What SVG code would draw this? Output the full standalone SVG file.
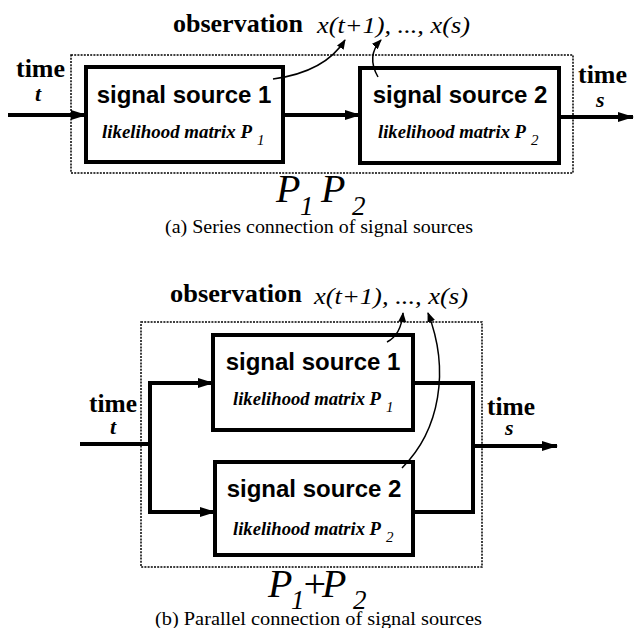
<svg xmlns="http://www.w3.org/2000/svg" width="634" height="628" viewBox="0 0 634 628">
<style>
.bg{fill:#fff}
.box{fill:none;stroke:#000;stroke-width:4}
.dot{fill:none;stroke:#000;stroke-width:1.5;stroke-dasharray:2 1.2}
.wire{fill:none;stroke:#000;stroke-width:4}
.thin{fill:none;stroke:#000;stroke-width:1.5}
.obs{font-family:"Liberation Serif",serif;font-weight:bold;font-size:25px}
.obsx{font-family:"Liberation Serif",serif;font-style:italic;font-size:24px}
.time{font-family:"Liberation Serif",serif;font-weight:bold;font-size:25px}
.tv{font-family:"Liberation Serif",serif;font-style:italic;font-weight:bold;font-size:22px}
.sig{font-family:"Liberation Sans",Arial,sans-serif;font-weight:bold;font-size:24px;text-anchor:middle}
.lik{font-family:"Liberation Serif",serif;font-style:italic;font-weight:bold;font-size:19px}
.sub{font-family:"Liberation Serif",serif;font-style:italic;font-size:15px}
.bigP{font-family:"Liberation Serif",serif;font-style:italic;font-size:40px}
.bigS{font-family:"Liberation Serif",serif;font-style:italic;font-size:27px}
.cap{font-family:"Liberation Serif",serif;font-size:19px}
</style>
<defs>
<marker id="ah" markerWidth="16" markerHeight="12" refX="15" refY="6" orient="auto" markerUnits="userSpaceOnUse"><path d="M0,1 L16,6 L0,11 z" fill="#000"/></marker>
<marker id="sh" markerWidth="10" markerHeight="8" refX="9" refY="4" orient="auto" markerUnits="userSpaceOnUse"><path d="M0,0 L10,4 L0,8 z" fill="#000"/></marker>
</defs>
<rect class="bg" x="0" y="0" width="634" height="628"/>

<!-- (a) series -->
<g id="series-frame">
<rect class="dot" x="71" y="55" width="502" height="118"/>
</g>
<g id="series-labels">
<text class="obs" x="173" y="32" textLength="130" lengthAdjust="spacingAndGlyphs">observation</text>
<text class="obsx" x="317" y="33" textLength="153" lengthAdjust="spacingAndGlyphs">x(t+1), ..., x(s)</text>
<text class="time" x="16" y="77" textLength="49" lengthAdjust="spacingAndGlyphs">time</text>
<text class="tv" x="35" y="101">t</text>
<text class="time" x="578" y="83" textLength="49" lengthAdjust="spacingAndGlyphs">time</text>
<text class="tv" x="596" y="107">s</text>
<text class="bigP" x="276" y="202">P</text>
<text class="bigS" x="300" y="215">1</text>
<text class="bigP" x="321" y="202">P</text>
<text class="bigS" x="352" y="215">2</text>
<text class="cap" x="165" y="233" textLength="308" lengthAdjust="spacingAndGlyphs">(a)  Series connection of signal sources</text>
</g>
<g id="series-source1">
<rect class="box" x="86" y="67" width="197" height="95"/>
<text class="sig" x="184" y="103">signal source 1</text>
<text class="lik" x="102" y="138" textLength="150" lengthAdjust="spacingAndGlyphs">likelihood matrix P</text>
<text class="sub" x="257" y="145">1</text>
</g>
<g id="series-source2">
<rect class="box" x="360" y="68" width="199" height="95"/>
<text class="sig" x="460" y="103">signal source 2</text>
<text class="lik" x="378" y="138" textLength="148" lengthAdjust="spacingAndGlyphs">likelihood matrix P</text>
<text class="sub" x="531" y="145">2</text>
</g>
<g id="series-connectors">
<line class="wire" x1="8" y1="115" x2="86" y2="115" marker-end="url(#ah)"/>
<line class="wire" x1="283" y1="115" x2="360" y2="115" marker-end="url(#ah)"/>
<line class="wire" x1="559" y1="117" x2="633" y2="117" marker-end="url(#ah)"/>
<path class="thin" d="M273,79 Q325,72 345,40" marker-end="url(#sh)"/>
<path class="thin" d="M378,77 Q366,56 381,40" marker-end="url(#sh)"/>
</g>

<!-- (b) parallel -->
<g id="parallel-frame">
<rect class="dot" x="141" y="322" width="341" height="245"/>
</g>
<g id="parallel-labels">
<text class="obs" x="170" y="302" textLength="132" lengthAdjust="spacingAndGlyphs">observation</text>
<text class="obsx" x="314" y="304" textLength="154" lengthAdjust="spacingAndGlyphs">x(t+1), ..., x(s)</text>
<text class="time" x="89" y="412" textLength="48" lengthAdjust="spacingAndGlyphs">time</text>
<text class="tv" x="110" y="434">t</text>
<text class="time" x="487" y="415" textLength="48" lengthAdjust="spacingAndGlyphs">time</text>
<text class="tv" x="505" y="435">s</text>
<text class="bigP" x="268" y="597">P</text>
<text class="bigS" x="291" y="609">1</text>
<text class="bigP" x="301" y="597">+</text>
<text class="bigP" x="322" y="597">P</text>
<text class="bigS" x="353" y="609">2</text>
<text class="cap" x="155" y="625" textLength="327" lengthAdjust="spacingAndGlyphs">(b)  Parallel connection of signal sources</text>
</g>
<g id="parallel-source1">
<rect class="box" x="213" y="335" width="200" height="95"/>
<text class="sig" x="313" y="370">signal source 1</text>
<text class="lik" x="233" y="405" textLength="148" lengthAdjust="spacingAndGlyphs">likelihood matrix P</text>
<text class="sub" x="386" y="412">1</text>
</g>
<g id="parallel-source2">
<rect class="box" x="215" y="462" width="198" height="93"/>
<text class="sig" x="314" y="497">signal source 2</text>
<text class="lik" x="233" y="535" textLength="148" lengthAdjust="spacingAndGlyphs">likelihood matrix P</text>
<text class="sub" x="386" y="542">2</text>
</g>
<g id="parallel-connectors">
<line class="wire" x1="80" y1="444" x2="152" y2="444"/>
<path class="wire" d="M150,444 L150,383 L213,383" marker-end="url(#ah)"/>
<path class="wire" d="M150,444 L150,512 L215,512" marker-end="url(#ah)"/>
<path class="wire" d="M413,383 L473,383 L473,512 L413,512"/>
<line class="wire" x1="471" y1="446" x2="557" y2="446" marker-end="url(#ah)"/>
<path class="thin" d="M387,342 Q401,335 403,313" marker-end="url(#sh)"/>
<path class="thin" d="M402,468 C440,430 450,370 428,313" marker-end="url(#sh)"/>
</g>
</svg>
